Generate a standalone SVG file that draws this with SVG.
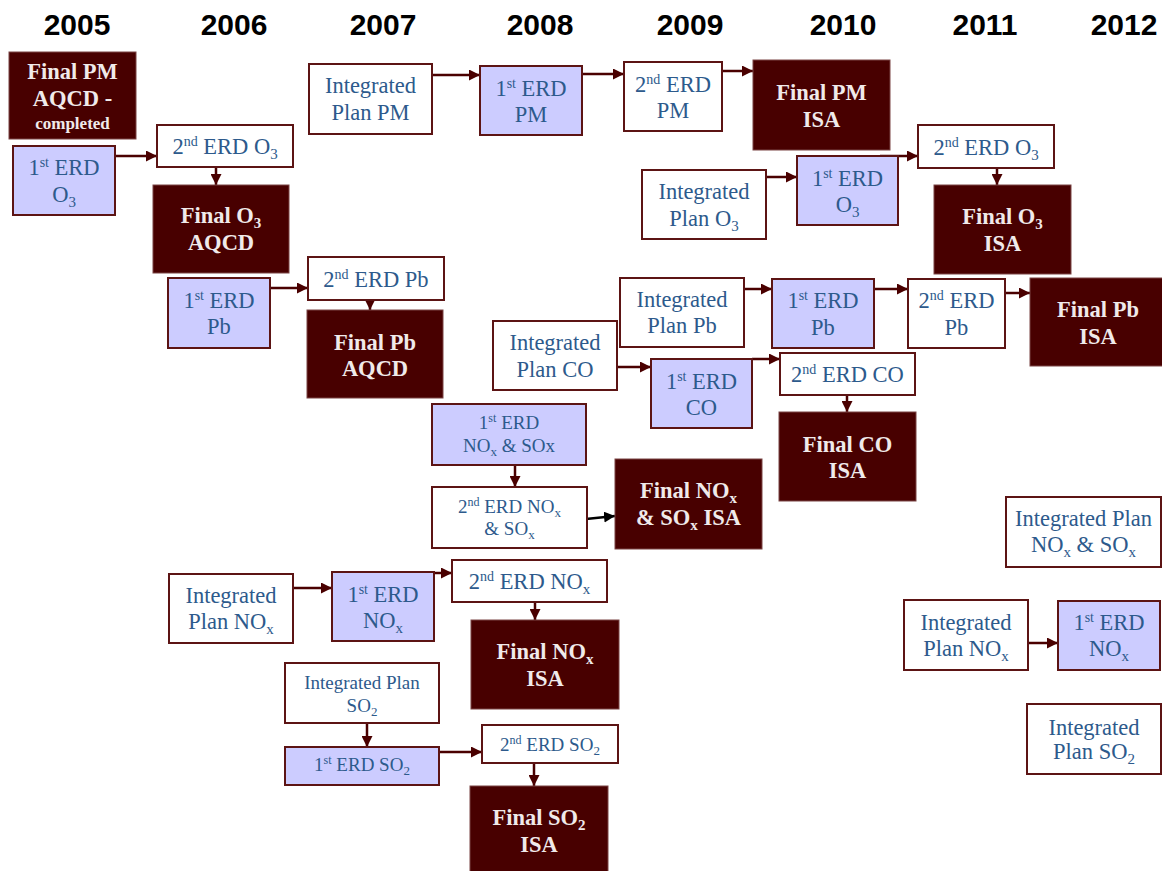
<svg xmlns="http://www.w3.org/2000/svg" width="1162" height="871" viewBox="0 0 1162 871">
<defs>
<style>
.yr{font-family:"Liberation Sans",Arial,sans-serif;font-weight:bold;font-size:30px;fill:#000;text-anchor:middle}
.dk{fill:#480000;stroke:#7a4444;stroke-width:1}
.lt{fill:#ccccff;stroke:#5c1414;stroke-width:2}
.wh{fill:#fff;stroke:#5c1414;stroke-width:2}
.t{font-family:"Liberation Serif","Times New Roman",serif;font-size:22.5px;fill:#2d5a8c;text-anchor:middle}
.ts{font-family:"Liberation Serif","Times New Roman",serif;font-size:19px;fill:#2d5a8c;text-anchor:middle}
.tw{font-family:"Liberation Serif","Times New Roman",serif;font-weight:bold;font-size:22.5px;fill:#f0eaea;text-anchor:middle}
.c{stroke:#4a0000;stroke-width:2.5;fill:none;marker-end:url(#ah)}
.cb{stroke:#000;stroke-width:2.5;fill:none;marker-end:url(#ahb)}
</style>
<marker id="ah" markerUnits="userSpaceOnUse" viewBox="0 0 10 10" refX="10" refY="5" markerWidth="11" markerHeight="11" orient="auto"><path d="M0,0 L10,5 L0,10 z" fill="#4a0000"/></marker>
<marker id="ahb" markerUnits="userSpaceOnUse" viewBox="0 0 10 10" refX="10" refY="5" markerWidth="11" markerHeight="11" orient="auto"><path d="M0,0 L10,5 L0,10 z" fill="#000"/></marker>
</defs>
<rect width="1162" height="871" fill="#fff"/>
<g id="years">
<text class="yr" x="77" y="35">2005</text>
<text class="yr" x="234" y="35">2006</text>
<text class="yr" x="383" y="35">2007</text>
<text class="yr" x="540" y="35">2008</text>
<text class="yr" x="690" y="35">2009</text>
<text class="yr" x="843" y="35">2010</text>
<text class="yr" x="985" y="35">2011</text>
<text class="yr" x="1124" y="35">2012</text>
</g>
<g id="connectors">
<path class="c" d="M115,156 H157"/>
<path class="c" d="M216,167 V185"/>
<path class="c" d="M432,75 H480"/>
<path class="c" d="M582,74 H624"/>
<path class="c" d="M722,71 H753"/>
<path class="c" d="M764,177 H797"/>
<path class="c" d="M880,156 H918"/>
<path class="c" d="M997,168 V185"/>
<path class="c" d="M744,289 H772"/>
<path class="c" d="M874,289 H908"/>
<path class="c" d="M1003,293 H1030"/>
<path class="c" d="M267,288 H308"/>
<path class="c" d="M370,300 V310"/>
<path class="c" d="M617,367 H651"/>
<path class="c" d="M752,359 H780"/>
<path class="c" d="M847,395 V412"/>
<path class="c" d="M515,465 V487"/>
<path class="cb" d="M586,519 L615,516"/>
<path class="c" d="M293,588 H332"/>
<path class="c" d="M434,573 H452"/>
<path class="c" d="M535,602 V620"/>
<path class="c" d="M367,723 V747"/>
<path class="c" d="M439,752 H482"/>
<path class="c" d="M534,763 V786"/>
<path class="c" d="M1028,643 H1058"/>
</g>
<g id="n1"><rect class="dk" x="9" y="52" width="127" height="87"/>
<text class="tw" x="72.5" y="79">Final PM</text><text class="tw" x="72.5" y="106">AQCD -</text><text class="tw" x="72.5" y="129" style="font-size:17px">completed</text></g>
<g id="n2"><rect class="lt" x="13" y="146" width="102" height="69"/>
<text class="t" x="64" y="175">1<tspan font-size="14" dy="-8">st</tspan><tspan dy="8"> ERD</tspan></text>
<text class="t" x="64" y="202">O<tspan font-size="15" dy="5">3</tspan></text></g>
<g id="n3"><rect class="wh" x="157" y="125" width="136" height="42"/>
<text class="t" x="225" y="154">2<tspan font-size="14" dy="-8">nd</tspan><tspan dy="8"> ERD O</tspan><tspan font-size="15" dy="5">3</tspan></text></g>
<g id="n4"><rect class="dk" x="153" y="185" width="136" height="88"/>
<text class="tw" x="221" y="223">Final O<tspan font-size="15" dy="5">3</tspan></text>
<text class="tw" x="221" y="250">AQCD</text></g>
<g id="n5"><rect class="wh" x="309" y="64" width="123" height="70"/>
<text class="t" x="370.5" y="93">Integrated</text><text class="t" x="370.5" y="120">Plan PM</text></g>
<g id="n6"><rect class="lt" x="480" y="66" width="102" height="69"/>
<text class="t" x="531" y="96">1<tspan font-size="14" dy="-8">st</tspan><tspan dy="8"> ERD</tspan></text>
<text class="t" x="531" y="122">PM</text></g>
<g id="n7"><rect class="wh" x="624" y="62" width="98" height="69"/>
<text class="t" x="673" y="92">2<tspan font-size="14" dy="-8">nd</tspan><tspan dy="8"> ERD</tspan></text>
<text class="t" x="673" y="118">PM</text></g>
<g id="n8"><rect class="dk" x="753" y="60" width="137" height="90"/>
<text class="tw" x="821.5" y="100">Final PM</text><text class="tw" x="821.5" y="127">ISA</text></g>
<g id="n9"><rect class="wh" x="642" y="170" width="124" height="69"/>
<text class="t" x="704" y="199">Integrated</text>
<text class="t" x="704" y="226">Plan O<tspan font-size="15" dy="5">3</tspan></text></g>
<g id="n10"><rect class="lt" x="797" y="156" width="101" height="69"/>
<text class="t" x="847.5" y="186">1<tspan font-size="14" dy="-8">st</tspan><tspan dy="8"> ERD</tspan></text>
<text class="t" x="847.5" y="212">O<tspan font-size="15" dy="5">3</tspan></text></g>
<g id="n11"><rect class="wh" x="918" y="125" width="136" height="43"/>
<text class="t" x="986" y="155">2<tspan font-size="14" dy="-8">nd</tspan><tspan dy="8"> ERD O</tspan><tspan font-size="15" dy="5">3</tspan></text></g>
<g id="n12"><rect class="dk" x="934" y="185" width="137" height="89"/>
<text class="tw" x="1002.5" y="224">Final O<tspan font-size="15" dy="5">3</tspan></text>
<text class="tw" x="1002.5" y="251">ISA</text></g>
<g id="n13"><rect class="lt" x="772" y="279" width="102" height="69"/>
<text class="t" x="823" y="308">1<tspan font-size="14" dy="-8">st</tspan><tspan dy="8"> ERD</tspan></text>
<text class="t" x="823" y="335">Pb</text></g>
<g id="n14"><rect class="wh" x="908" y="279" width="97" height="69"/>
<text class="t" x="956.5" y="308">2<tspan font-size="14" dy="-8">nd</tspan><tspan dy="8"> ERD</tspan></text>
<text class="t" x="956.5" y="335">Pb</text></g>
<g id="n15"><rect class="dk" x="1030" y="278" width="136" height="88"/>
<text class="tw" x="1098" y="317">Final Pb</text><text class="tw" x="1098" y="344">ISA</text></g>
<g id="n16"><rect class="lt" x="168" y="278" width="102" height="70"/>
<text class="t" x="219" y="308">1<tspan font-size="14" dy="-8">st</tspan><tspan dy="8"> ERD</tspan></text>
<text class="t" x="219" y="334">Pb</text></g>
<g id="n17"><rect class="wh" x="308" y="257" width="136" height="43"/>
<text class="t" x="376" y="287">2<tspan font-size="14" dy="-8">nd</tspan><tspan dy="8"> ERD Pb</tspan></text></g>
<g id="n18"><rect class="dk" x="307" y="310" width="136" height="88"/>
<text class="tw" x="375" y="350">Final Pb</text><text class="tw" x="375" y="376">AQCD</text></g>
<g id="n19"><rect class="wh" x="620" y="278" width="124" height="69"/>
<text class="t" x="682" y="307">Integrated</text><text class="t" x="682" y="333">Plan Pb</text></g>
<g id="n20"><rect class="wh" x="493" y="321" width="124" height="69"/>
<text class="t" x="555" y="350">Integrated</text><text class="t" x="555" y="377">Plan CO</text></g>
<g id="n21"><rect class="lt" x="651" y="359" width="101" height="69"/>
<text class="t" x="701.5" y="389">1<tspan font-size="14" dy="-8">st</tspan><tspan dy="8"> ERD</tspan></text>
<text class="t" x="701.5" y="415">CO</text></g>
<g id="n22"><rect class="wh" x="780" y="353" width="135" height="42"/>
<text class="t" x="847.5" y="382">2<tspan font-size="14" dy="-8">nd</tspan><tspan dy="8"> ERD CO</tspan></text></g>
<g id="n23"><rect class="dk" x="779" y="412" width="137" height="89"/>
<text class="tw" x="847.5" y="452">Final CO</text><text class="tw" x="847.5" y="478">ISA</text></g>
<g id="n24"><rect class="lt" x="432" y="404" width="154" height="61"/>
<text class="ts" x="509" y="429">1<tspan font-size="12" dy="-7">st</tspan><tspan dy="7"> ERD</tspan></text>
<text class="ts" x="509" y="452">NO<tspan font-size="13" dy="4">x</tspan><tspan dy="-4"> &amp; SOx</tspan></text></g>
<g id="n25"><rect class="wh" x="432" y="487" width="155" height="61"/>
<text class="ts" x="509.5" y="513">2<tspan font-size="12" dy="-7">nd</tspan><tspan dy="7"> ERD NO</tspan><tspan font-size="13" dy="4">x</tspan></text>
<text class="ts" x="509.5" y="535">&amp; SO<tspan font-size="13" dy="4">x</tspan></text></g>
<g id="n26"><rect class="dk" x="615" y="459" width="147" height="90"/>
<text class="tw" x="688.5" y="498">Final NO<tspan font-size="15" dy="5">x</tspan></text>
<text class="tw" x="688.5" y="525">&amp; SO<tspan font-size="15" dy="5">x</tspan><tspan dy="-5"> ISA</tspan></text></g>
<g id="n27"><rect class="wh" x="169" y="574" width="124" height="69"/>
<text class="t" x="231" y="603">Integrated</text>
<text class="t" x="231" y="629">Plan NO<tspan font-size="15" dy="5">x</tspan></text></g>
<g id="n28"><rect class="lt" x="332" y="572" width="102" height="69"/>
<text class="t" x="383" y="602">1<tspan font-size="14" dy="-8">st</tspan><tspan dy="8"> ERD</tspan></text>
<text class="t" x="383" y="628">NO<tspan font-size="15" dy="5">x</tspan></text></g>
<g id="n29"><rect class="wh" x="452" y="560" width="155" height="42"/>
<text class="t" x="529.5" y="589">2<tspan font-size="14" dy="-8">nd</tspan><tspan dy="8"> ERD NO</tspan><tspan font-size="15" dy="5">x</tspan></text></g>
<g id="n30"><rect class="dk" x="471" y="620" width="148" height="89"/>
<text class="tw" x="545" y="659">Final NO<tspan font-size="15" dy="5">x</tspan></text>
<text class="tw" x="545" y="686">ISA</text></g>
<g id="n31"><rect class="wh" x="285" y="663" width="154" height="60"/>
<text class="ts" x="362" y="689">Integrated Plan</text>
<text class="ts" x="362" y="712">SO<tspan font-size="13" dy="4">2</tspan></text></g>
<g id="n32"><rect class="lt" x="285" y="747" width="154" height="38"/>
<text class="ts" x="362" y="771">1<tspan font-size="12" dy="-7">st</tspan><tspan dy="7"> ERD SO</tspan><tspan font-size="13" dy="4">2</tspan></text></g>
<g id="n33"><rect class="wh" x="482" y="725" width="136" height="38"/>
<text class="ts" x="550" y="751">2<tspan font-size="12" dy="-7">nd</tspan><tspan dy="7"> ERD SO</tspan><tspan font-size="13" dy="4">2</tspan></text></g>
<g id="n34"><rect class="dk" x="470" y="786" width="138" height="88"/>
<text class="tw" x="539" y="825">Final SO<tspan font-size="15" dy="5">2</tspan></text>
<text class="tw" x="539" y="852">ISA</text></g>
<g id="n35"><rect class="wh" x="1006" y="497" width="155" height="70"/>
<text class="t" x="1083.5" y="526">Integrated Plan</text>
<text class="t" x="1083.5" y="552">NO<tspan font-size="15" dy="5">x</tspan><tspan dy="-5"> &amp; SO</tspan><tspan font-size="15" dy="5">x</tspan></text></g>
<g id="n36"><rect class="wh" x="904" y="600" width="124" height="70"/>
<text class="t" x="966" y="630">Integrated</text>
<text class="t" x="966" y="656">Plan NO<tspan font-size="15" dy="5">x</tspan></text></g>
<g id="n37"><rect class="lt" x="1058" y="601" width="102" height="69"/>
<text class="t" x="1109" y="630">1<tspan font-size="14" dy="-8">st</tspan><tspan dy="8"> ERD</tspan></text>
<text class="t" x="1109" y="656">NO<tspan font-size="15" dy="5">x</tspan></text></g>
<g id="n38"><rect class="wh" x="1027" y="704" width="134" height="70"/>
<text class="t" x="1094" y="735">Integrated</text>
<text class="t" x="1094" y="759">Plan SO<tspan font-size="15" dy="5">2</tspan></text></g>
</svg>
